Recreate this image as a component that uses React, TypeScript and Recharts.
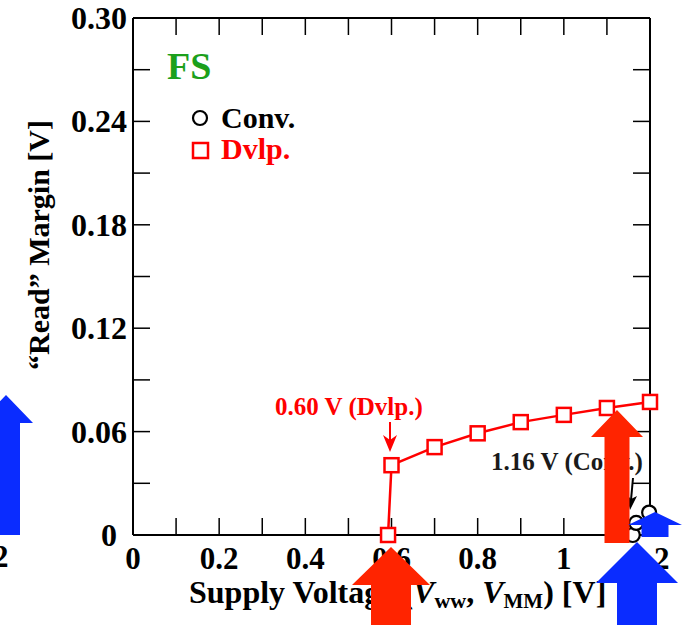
import React from "react";
import { ComposedChart, Line, XAxis, YAxis } from "recharts";

// supply voltage [V] -> "read" margin [V]
const dvlpVolt = [0.592, 0.6, 0.7, 0.8, 0.9, 1.0, 1.1, 1.2];
const dvlpMargin = [0, 0.0405, 0.051, 0.059, 0.0655, 0.0697, 0.0737, 0.0772];
const convVolt = [1.16, 1.168, 1.198];
const convMargin = [0, 0.007, 0.013];

const xTicks = [0, 0.1, 0.2, 0.3, 0.4, 0.5, 0.6, 0.7, 0.8, 0.9, 1.0, 1.1, 1.2];
const xLabels = ["0", "", "0.2", "", "0.4", "", "0.6", "", "0.8", "", "1", "", "1.2"];
const yTicks = [0, 0.03, 0.06, 0.09, 0.12, 0.15, 0.18, 0.21, 0.24, 0.27, 0.3];
const yLabels = ["0", "", "0.06", "", "0.12", "", "0.18", "", "0.24", "", "0.30"];

const dvlp = dvlpVolt.map((x, i) => ({ x, y: dvlpMargin[i] }));
const conv = convVolt.map((x, i) => ({ x, y: convMargin[i] }));

const FONT = '"Liberation Serif", "Times New Roman", serif';
const RED = "#ff0000";
const ARROW_RED = "#ff2400";
const ARROW_BLUE = "#0a2cff";

const SquareDot = (p: any) => {
  if (p.cx == null || p.cy == null) return null;
  return (
    <rect
      x={p.cx - 7}
      y={p.cy - 7}
      width={14}
      height={14}
      fill="#fff"
      stroke={RED}
      strokeWidth={2.5}
    />
  );
};

const CircleDot = (p: any) => {
  if (p.cx == null || p.cy == null) return null;
  return <circle cx={p.cx} cy={p.cy} r={7} fill="#fff" stroke="#000" strokeWidth={2.2} />;
};

const YTick = (p: any) => {
  const i = yTicks.indexOf(p.payload.value);
  const label = yLabels[i] ?? "";
  const shift = p.payload.value === 0 ? -10 : 0;
  return (
    <text
      x={p.x + shift}
      y={p.y + 11}
      textAnchor="end"
      fontFamily={FONT}
      fontWeight="bold"
      fontSize={32}
      fill="#000"
    >
      {label}
    </text>
  );
};

const NoTick = () => <g />;

// big block arrow pointing up
function blockArrow(cx: number, tip: number, base: number, head: number, shaft: number, bottom: number) {
  return [
    [cx, tip],
    [cx + head, base],
    [cx + shaft, base],
    [cx + shaft, bottom],
    [cx - shaft, bottom],
    [cx - shaft, base],
    [cx - head, base],
  ]
    .map((q) => q.join(","))
    .join(" ");
}

export default function App() {
  return (
    <div style={{ position: "absolute", left: 0, top: 0, width: 682, height: 625, background: "#fff" }}>
      <ComposedChart
        width={682}
        height={625}
        margin={{ top: 17, right: 31, bottom: 0, left: 73 }}
        style={{ fontFamily: FONT }}
      >
        <XAxis
          xAxisId="b"
          type="number"
          dataKey="x"
          domain={[0, 1.2]}
          ticks={xTicks}
          tickFormatter={(v: number) => xLabels[xTicks.indexOf(v)] ?? ""}
          interval={0}
          height={90}
          tickSize={-17}
          tickMargin={29}
          axisLine={{ stroke: "#000", strokeWidth: 2 }}
          tickLine={{ stroke: "#000", strokeWidth: 1.5 }}
          tick={{ fill: "#000", fontSize: 31, fontWeight: "bold", fontFamily: FONT }}
        />
        <XAxis
          xAxisId="t"
          orientation="top"
          type="number"
          dataKey="x"
          domain={[0, 1.2]}
          ticks={xTicks}
          interval={0}
          height={1}
          tickSize={-17}
          tick={<NoTick />}
          axisLine={{ stroke: "#000", strokeWidth: 2 }}
          tickLine={{ stroke: "#000", strokeWidth: 1.5 }}
        />
        <YAxis
          yAxisId="l"
          type="number"
          domain={[0, 0.3]}
          ticks={yTicks}
          interval={0}
          width={60}
          tickSize={-17}
          tickMargin={23}
          axisLine={{ stroke: "#000", strokeWidth: 2 }}
          tickLine={{ stroke: "#000", strokeWidth: 1.5 }}
          tick={<YTick />}
        />
        <YAxis
          yAxisId="r"
          orientation="right"
          type="number"
          domain={[0, 0.3]}
          ticks={yTicks}
          interval={0}
          width={1}
          tickSize={-17}
          tick={<NoTick />}
          axisLine={{ stroke: "#000", strokeWidth: 2 }}
          tickLine={{ stroke: "#000", strokeWidth: 1.5 }}
        />
        {/* invisible copy so the mirrored frame axes get drawn */}
        <Line
          xAxisId="t"
          yAxisId="r"
          data={dvlp}
          dataKey="y"
          stroke="none"
          dot={false}
          activeDot={false}
          isAnimationActive={false}
        />
        <Line
          xAxisId="b"
          yAxisId="l"
          data={dvlp}
          dataKey="y"
          type="linear"
          stroke={RED}
          strokeWidth={2.5}
          dot={<SquareDot />}
          isAnimationActive={false}
        />
        <Line
          xAxisId="b"
          yAxisId="l"
          data={conv}
          dataKey="y"
          type="linear"
          stroke="none"
          dot={<CircleDot />}
          isAnimationActive={false}
        />
      </ComposedChart>

      <svg
        width={682}
        height={625}
        style={{ position: "absolute", left: 0, top: 0, pointerEvents: "none", overflow: "hidden" }}
        fontFamily={FONT}
        fontWeight="bold"
      >
        {/* axis titles */}
        <text x={189} y={603} fontSize={32} fill="#000">
          Supply Voltage (<tspan fontStyle="italic">V</tspan>
          <tspan fontSize={22} dy={5}>ww</tspan>
          <tspan dy={-5}>, </tspan>
          <tspan fontStyle="italic">V</tspan>
          <tspan fontSize={21} dy={5}>MM</tspan>
          <tspan dy={-5}>) [V]</tspan>
        </text>
        <text
          x={0}
          y={0}
          transform="translate(49,245) rotate(-90)"
          textAnchor="middle"
          fontSize={30}
          fill="#000"
        >
          “Read” Margin [V]
        </text>
        <text x={-7} y={567} fontSize={31} fill="#000">2</text>

        {/* legend */}
        <text x={167} y={79} fontSize={38} fill="#1ca01c">FS</text>
        <circle cx={200} cy={118} r={7} fill="#fff" stroke="#000" strokeWidth={2.2} />
        <text x={221} y={128} fontSize={30} fill="#000">Conv.</text>
        <rect x={193} y={143} width={15} height={15} fill="#fff" stroke={RED} strokeWidth={2.5} />
        <text x={221} y={159} fontSize={30} fill={RED}>Dvlp.</text>

        {/* annotations */}
        <text x={275} y={415} fontSize={25} fill={RED}>0.60 V (Dvlp.)</text>
        <line x1={390} y1={422} x2={390} y2={446} stroke={RED} strokeWidth={2} />
        <polygon points="383,435 390,452 397,435 390,440" fill={RED} />
        <text x={491} y={470} fontSize={25} fill="#1a1a1a">1.16 V (Conv.)</text>
        <line x1={633} y1={478} x2={631} y2={500} stroke="#000" strokeWidth={2} />
        <polygon points="626,494 630,510 637,496 631,499" fill="#000" />

        {/* block arrows */}
        <polygon points={blockArrow(617, 410, 437, 26, 12.5, 543)} fill={ARROW_RED} />
        <polygon points={blockArrow(391, 547, 585, 39, 20, 640)} fill={ARROW_RED} />
        <polygon points={blockArrow(655, 512, 525, 27, 13.5, 537)} fill={ARROW_BLUE} />
        <polygon points={blockArrow(637, 542, 583, 41, 20, 640)} fill={ARROW_BLUE} />
        <polygon points={blockArrow(6, 395, 423, 27, 14, 535)} fill={ARROW_BLUE} />
      </svg>
    </div>
  );
}
